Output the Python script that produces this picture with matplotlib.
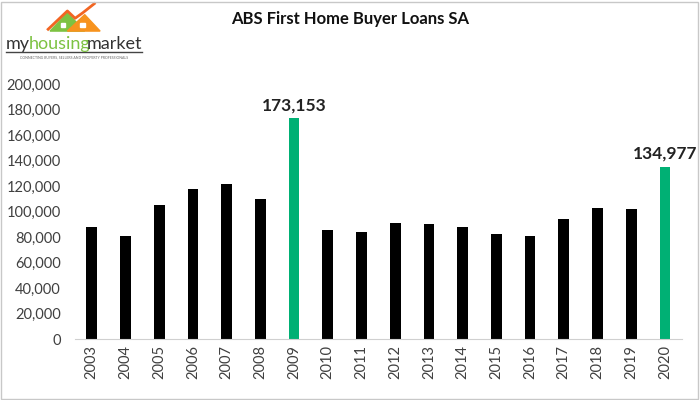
import matplotlib
matplotlib.use("Agg")
import matplotlib.pyplot as plt
from matplotlib.patches import Polygon, Rectangle

years = ["2003", "2004", "2005", "2006", "2007", "2008", "2009", "2010", "2011",
         "2012", "2013", "2014", "2015", "2016", "2017", "2018", "2019", "2020"]
loans = [88000, 81000, 105500, 118000, 121600, 109600, 173153, 85400, 84400,
         91100, 90300, 88300, 82500, 80900, 94500, 102600, 102000, 134977]
highlight = ["2009", "2020"]

plt.rcParams['font.family'] = ['Lato', 'DejaVu Sans']

black = "#000000"
green = "#00B074"
colors = [green if y in highlight else black for y in years]

fig = plt.figure(figsize=(7, 4), dpi=100)
ax = fig.add_axes([0.107, 0.152, 0.867, 0.638])

x = list(range(len(years)))
ax.bar(x, loans, width=0.32, color=colors)

for i, (y, v) in enumerate(zip(years, loans)):
    if y in highlight:
        ax.text(i, v + 4000, f"{v:,}", ha="center", va="bottom",
                fontsize=12.5, fontweight="bold", color="#222222")

ax.set_xlim(-0.5, len(years) - 0.5)
ax.set_ylim(0, 200000)
ax.set_yticks(range(0, 200001, 20000))
ax.set_yticklabels([f"{t:,}" for t in range(0, 200001, 20000)])
ax.set_xticks(x)
ax.set_xticklabels(years, rotation=90)
ax.tick_params(axis="both", length=0, labelsize=10.5, colors="#404040")
ax.tick_params(axis="y", pad=10)
ax.tick_params(axis="x", pad=4)
for s in ["top", "right", "left"]:
    ax.spines[s].set_visible(False)
ax.spines["bottom"].set_color("#d0d0d0")

fig.text(0.5, 0.952, "ABS First Home Buyer Loans SA", ha="center", va="center",
         fontsize=12, fontweight="bold", color="#111111")

# logo
logo = fig.add_axes([0.0, 0.84, 0.22, 0.16])
logo.set_xlim(0, 160)
logo.set_ylim(0, 70)
logo.axis("off")
logo.add_patch(Polygon([[52, 36], [70, 56], [88, 36]], closed=True, color="#7DC242"))
logo.add_patch(Polygon([[70, 36], [88, 54], [104, 36]], closed=True, color="#F7931E"))
logo.plot([50, 70, 78, 86, 98], [38, 58, 50, 56, 66], color="#F26522", lw=2)
logo.add_patch(Rectangle((63, 40), 5, 5, color="white"))
logo.add_patch(Rectangle((83, 40), 5, 5, color="white"))
logo.text(6, 22, "my", fontsize=13, color="#333333", va="center")
logo.text(30, 22, "housing", fontsize=13, color="#7DC242", va="center")
logo.text(90, 22, "market", fontsize=13, color="#333333", va="center")
logo.plot([6, 148], [13, 13], color="#444444", lw=1)
logo.text(77, 7, "CONNECTING BUYERS, SELLERS AND PROPERTY PROFESSIONALS",
          fontsize=2.5, color="#666666", ha="center", va="center")

fig.patches.append(Rectangle((0.002, 0.003), 0.995, 0.993, transform=fig.transFigure,
                             fill=False, edgecolor="#c8c8c8", lw=1))

fig.savefig("out.png", dpi=100)
